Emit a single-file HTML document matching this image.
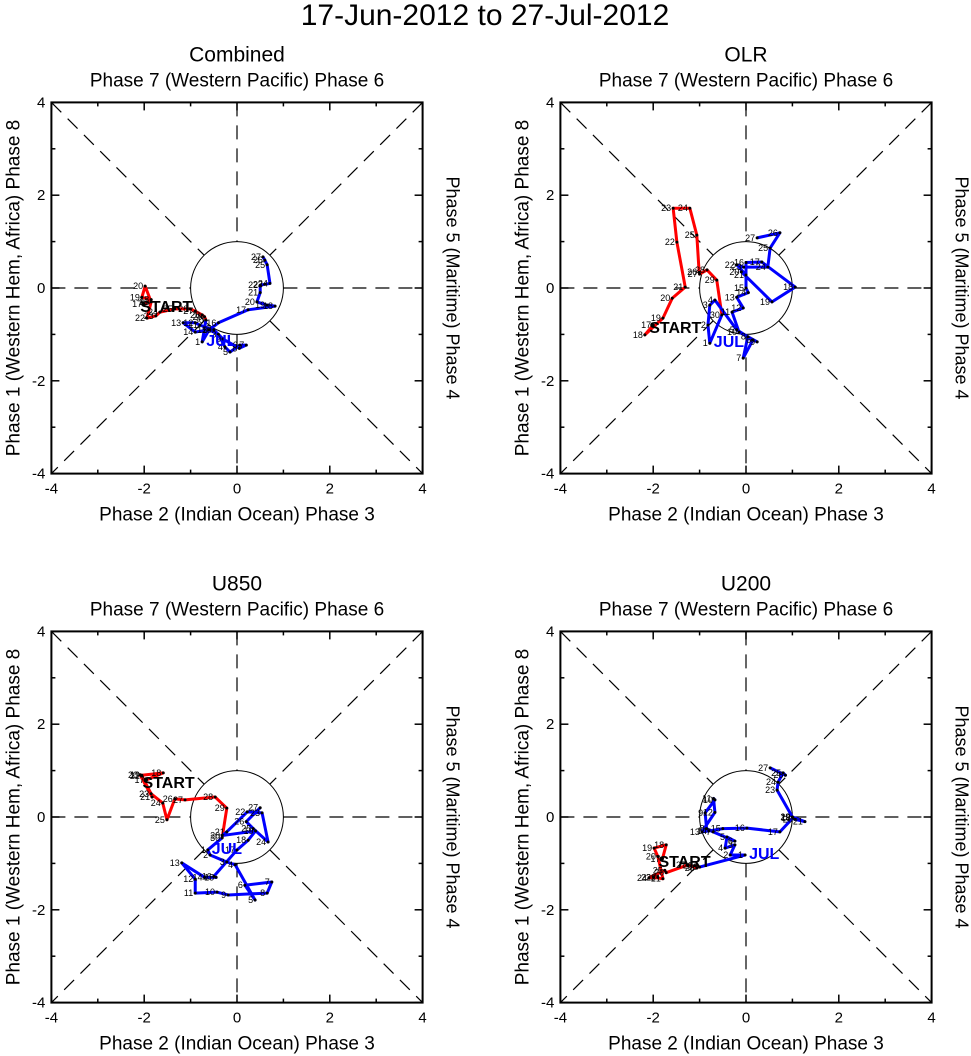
<!DOCTYPE html>
<html><head><meta charset="utf-8"><style>
body{margin:0;background:#fff}
svg{display:block;font-family:"Liberation Sans",sans-serif}
</style></head><body>
<svg id="chart" width="971" height="1056" viewBox="0 0 971 1056">
<text x="485" y="25" text-anchor="middle" font-size="30">17-Jun-2012 to 27-Jul-2012</text>
</svg>
<script>
const junDays=[17,18,19,20,21,22,23,24,25,26,27,28,29,30];
const julDays=[1,2,3,4,5,6,7,8,9,10,11,12,13,14,15,16,17,18,19,20,21,22,23,24,25,26,27];
const panelTitles=["Combined","OLR","U850","U200"];
const tickValues=[-4,-2,0,2,4];
const tickLabels=["-4","-2","0","2","4"];
const combJunX=[-2.0,-1.85,-2.05,-1.98,-1.85,-1.94,-1.75,-1.66,-1.34,-1.01,-0.9,-0.75,-0.7,-0.67];
const combJunY=[-0.35,-0.25,-0.2,0.04,-0.3,-0.65,-0.6,-0.52,-0.45,-0.45,-0.5,-0.58,-0.62,-0.69];
const combJulX=[-0.75,-0.6,-0.4,-0.26,-0.15,0.06,0.2,0.05,-0.3,-0.5,-0.8,-0.9,-1.16,-0.9,-0.6,-0.4,0.24,0.82,0.65,0.43,0.5,0.5,0.6,0.71,0.65,0.6,0.56];
const combJulY=[-1.16,-0.9,-1.0,-1.27,-1.38,-1.23,-1.23,-1.3,-1.1,-0.9,-0.8,-0.75,-0.75,-0.95,-0.9,-0.75,-0.47,-0.39,-0.37,-0.3,-0.1,0.06,0.08,0.1,0.5,0.6,0.67];
const olrJunX=[-2.0,-2.18,-1.79,-1.59,-1.31,-1.49,-1.57,-1.21,-1.06,-1.01,-1.0,-0.84,-0.63,-0.52];
const olrJunY=[-0.8,-1.01,-0.65,-0.22,0.02,0.99,1.72,1.72,1.14,0.34,0.3,0.39,0.17,-0.58];
const olrJulX=[-0.78,-0.82,-0.78,-0.67,-0.2,0.15,-0.06,0.04,0.24,-0.15,-0.3,-0.06,-0.2,0.05,0.0,0.0,0.34,1.06,0.56,-0.1,0.0,-0.2,-0.05,0.47,0.52,0.73,0.24];
const olrJulY=[-1.19,-0.8,-0.37,-0.26,-0.9,-1.12,-1.51,-1.05,-1.16,-0.95,-0.52,-0.43,-0.2,-0.1,0.0,0.55,0.56,0.02,-0.3,0.35,0.28,0.5,0.45,0.45,0.86,1.19,1.08];
const u850JunX=[-1.95,-1.59,-2.05,-2.09,-1.83,-2.05,-1.85,-1.6,-1.51,-1.34,-1.12,-0.47,-0.22,-0.32];
const u850JunY=[0.8,0.95,0.9,0.91,0.43,0.88,0.5,0.3,-0.06,0.39,0.37,0.43,0.19,-0.45];
const u850JulX=[-0.63,-0.58,-0.22,-0.04,0.39,0.17,0.75,0.65,-0.19,-0.43,-0.9,-0.9,-1.19,-0.7,-0.45,-0.5,0.0,0.24,0.4,-0.32,-0.22,0.22,0.54,0.67,0.35,0.2,0.5];
const u850JulY=[-0.71,-0.82,-0.97,-1.03,-1.79,-1.47,-1.4,-1.64,-1.68,-1.62,-1.64,-1.34,-0.99,-1.3,-1.3,-1.28,-0.71,-0.5,-0.3,-0.4,-0.32,0.11,0.09,-0.54,-0.25,-0.1,0.2];
const u200JunX=[-1.8,-1.72,-1.98,-1.9,-1.79,-2.0,-1.9,-2.09,-1.75,-1.72,-1.25,-1.06,-1.1,-1.0];
const u200JunY=[-0.9,-0.6,-0.67,-0.85,-1.33,-1.3,-1.3,-1.31,-1.15,-1.2,-1.03,-1.1,-1.05,-1.08];
const u200JulX=[-0.02,-0.34,-0.24,-0.45,-0.41,-0.24,-0.71,-0.85,-0.88,-0.67,-0.7,-0.67,-0.95,-0.8,-0.5,0.02,0.73,1.01,1.0,1.05,1.27,1.0,0.67,0.69,0.8,0.85,0.52];
const u200JulY=[-0.82,-0.82,-0.6,-0.67,-0.43,-0.52,-0.32,-0.25,0.09,0.37,0.4,0.1,-0.32,-0.3,-0.25,-0.24,-0.32,-0.02,0.0,-0.05,-0.1,0.0,0.58,0.75,0.95,0.9,1.06];

const junX=[combJunX,olrJunX,u850JunX,u200JunX], junY=[combJunY,olrJunY,u850JunY,u200JunY];
const julX=[combJulX,olrJulX,u850JulX,u200JulX], julY=[combJulY,olrJulY,u850JulY,u200JulY];
const NS="http://www.w3.org/2000/svg";
const svg=document.getElementById('chart');
function mk(tag,attrs,parent,text){const e=document.createElementNS(NS,tag);for(const k in attrs)e.setAttribute(k,attrs[k]);if(text!==undefined)e.textContent=text;(parent||svg).appendChild(e);return e;}
const origins=[[237,288],[746,288],[237,817],[746,817]];
const S=46.4;
for(let p=0;p<4;p++){
  const ox=origins[p][0], oy=origins[p][1];
  const sx=v=>ox+v*S, sy=v=>oy-v*S;
  const g=mk('g',{});
  
  
  const L=sx(-4),R=sx(4),T=sy(4),B=sy(-4);
  const r=S, d=S/Math.SQRT2;
  const segs=[[sx(-4),oy,ox-r,oy],[ox+r,oy,sx(4),oy],[ox,sy(4),ox,oy-r],[ox,oy+r,ox,sy(-4)],
    [L,T,ox-d,oy-d],[ox+d,oy+d,R,B],[R,T,ox+d,oy-d],[ox-d,oy+d,L,B]];
  segs.forEach(s=>{const l=mk('line',{x1:s[0],y1:s[1],x2:s[2],y2:s[3],stroke:'#000','stroke-width':1.2,'stroke-dasharray':'14,9'},g);
    
    });
  const c=mk('circle',{cx:ox,cy:oy,r:r,fill:'none',stroke:'#000','stroke-width':1},g);
  
  
  const fr=mk('rect',{x:L,y:T,width:R-L,height:B-T,fill:'none',stroke:'#000','stroke-width':2},g);
  
  
  for(let v=-4;v<=4;v++){
    const len=(v%2===0)?8:4;
    mk('line',{x1:sx(v),y1:B,x2:sx(v),y2:B-len,stroke:'#000','stroke-width':1.5},g);
    mk('line',{x1:sx(v),y1:T,x2:sx(v),y2:T+len,stroke:'#000','stroke-width':1.5},g);
    mk('line',{x1:L,y1:sy(v),x2:L+len,y2:sy(v),stroke:'#000','stroke-width':1.5},g);
    mk('line',{x1:R,y1:sy(v),x2:R-len,y2:sy(v),stroke:'#000','stroke-width':1.5},g);
  }
  tickValues.forEach((v,i)=>{
    const tx=mk('text',{x:sx(v),y:B+20,'text-anchor':'middle','font-size':15},g,tickLabels[i]);
    
    
    const ty=mk('text',{x:L-6,y:sy(v)+5,'text-anchor':'end','font-size':15},g,tickLabels[i]);
    
    
  });
  const t1=mk('text',{x:ox,y:T-41,'text-anchor':'middle','font-size':21},g,panelTitles[p]);
  
  
  const t2=mk('text',{x:ox,y:T-16,'text-anchor':'middle','font-size':19},g,'Phase 7 (Western Pacific) Phase 6');
  
  
  const t3=mk('text',{x:ox,y:B+47,'text-anchor':'middle','font-size':19},g,'Phase 2 (Indian Ocean) Phase 3');
  
  
  const t4=mk('text',{x:0,y:0,'text-anchor':'middle','font-size':19,transform:`translate(${L-32},${oy}) rotate(-90)`},g,'Phase 1 (Western Hem, Africa) Phase 8');
  
  
  const t5=mk('text',{x:0,y:0,'text-anchor':'middle','font-size':18,transform:`translate(${R+24},${oy}) rotate(90)`},g,'Phase 5 (Maritime) Phase 4');
  
  
  const jx=junX[p],jy=junY[p],ux=julX[p],uy=julY[p];
  let pr=jx.map((v,i)=>sx(v)+','+sy(jy[i])).join(' ');
  const red=mk('polyline',{points:pr,fill:'none',stroke:'#ff0000','stroke-width':3,'stroke-linejoin':'round'},g);
  
  
  let pb=[sx(jx[jx.length-1])+','+sy(jy[jy.length-1])].concat(ux.map((v,i)=>sx(v)+','+sy(uy[i]))).join(' ');
  const blue=mk('polyline',{points:pb,fill:'none',stroke:'#0000ff','stroke-width':3,'stroke-linejoin':'round'},g);
  
  
  const addPts=(xs,ys,days)=>xs.forEach((v,i)=>{
    mk('circle',{cx:sx(v),cy:sy(ys[i]),r:1.5,fill:'#000'},g);
    const lb=mk('text',{x:sx(v)-2,y:sy(ys[i])+3,'text-anchor':'end','font-size':9},g,String(days[i]));
    
    
  });
  addPts(jx,jy,junDays); addPts(ux,uy,julDays);
  const st=mk('text',{x:sx(jx[0])-4,y:sy(jy[0])+8,'font-size':16,'font-weight':'bold'},g,'START');
  
  
  const jl=mk('text',{x:sx(ux[0])+4,y:sy(uy[0])+4,'font-size':16,'font-weight':'bold',fill:'#0000ff'},g,'JUL');
  
  
}
</script>
</body></html>
